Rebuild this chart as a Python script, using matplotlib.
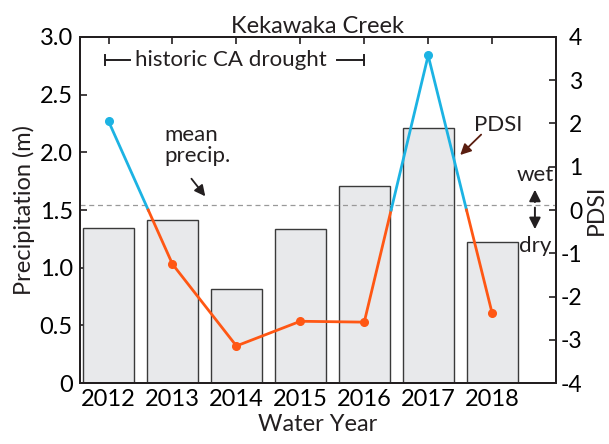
import numpy as np
import matplotlib
matplotlib.use('Agg')
import matplotlib.pyplot as plt

plt.rcParams['font.family'] = ['Lato', 'DejaVu Sans']

years = [2012, 2013, 2014, 2015, 2016, 2017, 2018]
precip = [1.34, 1.41, 0.815, 1.335, 1.71, 2.21, 1.22]
pdsi = [2.05, -1.25, -3.14, -2.57, -2.59, 3.57, -2.38]
mean_precip = 1.545

blue = '#1cb3e3'
orange = '#ff5714'
dark = '#231f20'

fig = plt.figure(figsize=(6.09, 4.44), dpi=100)
ax1 = fig.add_axes([0.131, 0.137, 0.782, 0.780])
ax2 = ax1.twinx()

ax1.bar(years, precip, width=0.8, color='#e8e9eb', edgecolor='#3a3a3a', linewidth=1.0, zorder=2)
ax1.axhline(mean_precip, color='#999999', linestyle=(0, (4, 3)), linewidth=0.9, zorder=3)

# split pdsi line at zero crossings so positive parts are blue and negative orange
x = np.array(years, dtype=float)
y = np.array(pdsi)
for i in range(len(x) - 1):
    x0, x1, y0, y1 = x[i], x[i + 1], y[i], y[i + 1]
    if y0 * y1 < 0:
        xc = x0 + (x1 - x0) * (0 - y0) / (y1 - y0)
        ax2.plot([x0, xc], [y0, 0], color=blue if y0 > 0 else orange, lw=2, zorder=4)
        ax2.plot([xc, x1], [0, y1], color=blue if y1 > 0 else orange, lw=2, zorder=4)
    else:
        ax2.plot([x0, x1], [y0, y1], color=blue if y0 > 0 else orange, lw=2, zorder=4)
for xi, yi in zip(x, y):
    ax2.plot(xi, yi, 'o', color=blue if yi > 0 else orange, ms=5.5, zorder=5)

ax1.set_xlim(2011.55, 2019.0)
ax1.set_ylim(0, 3.0)
ax2.set_ylim(-4, 4)
ax1.set_xticks(years)
ax1.set_yticks(np.arange(0, 3.01, 0.5))
ax1.set_yticklabels(['0', '0.5', '1.0', '1.5', '2.0', '2.5', '3.0'])
ax2.set_yticks(range(-4, 5))
ax2.set_yticklabels(['-4', '-3', '-2', '-1', '0', '1', '2', '3', '4'])

for ax in (ax1, ax2):
    for s in ax.spines.values():
        s.set_color(dark)
        s.set_linewidth(1.4)
ax1.tick_params(axis='x', direction='in', top=True, length=5, width=1.2, color=dark, labelsize=17, pad=4)
ax1.tick_params(axis='y', direction='in', length=5, width=1.2, color=dark, labelsize=17, pad=5)
ax2.tick_params(axis='y', direction='in', length=5, width=1.2, color=dark, labelsize=16.5, pad=19)
for lab in ax2.get_yticklabels():
    lab.set_horizontalalignment('right')

ax1.set_xlabel('Water Year', fontsize=17, color=dark, labelpad=3)
ax1.set_ylabel('Precipitation (m)', fontsize=17, color=dark)
ax1.yaxis.set_label_coords(-0.095, 0.5)
ax2.set_ylabel('PDSI', fontsize=16.5, color=dark)
ax2.yaxis.set_label_coords(1.063, 0.5)
ax1.set_title('Kekawaka Creek', fontsize=17, color=dark, pad=1)

# drought bracket
yb = 2.80
ax1.plot([2011.94, 2012.33], [yb, yb], color=dark, lw=1.4)
ax1.plot([2015.58, 2016.0], [yb, yb], color=dark, lw=1.4)
ax1.plot([2011.94, 2011.94], [yb - 0.04, yb + 0.04], color=dark, lw=1.4)
ax1.plot([2016.0, 2016.0], [yb - 0.04, yb + 0.04], color=dark, lw=1.4)
ax1.text(2012.41, yb, 'historic CA drought', fontsize=16, color=dark, va='center', ha='left')

ax1.text(2012.87, 2.06, 'mean\nprecip.', fontsize=16, color=dark, ha='left', va='center', linespacing=1.05)
ax1.annotate('', xy=(2013.54, 1.60), xytext=(2013.27, 1.79),
             arrowprops=dict(arrowstyle='-|>', color=dark, lw=1.3, mutation_scale=16))

ax1.text(2017.72, 2.24, 'PDSI', fontsize=16, color=dark, ha='left', va='center')
ax1.annotate('', xy=(2017.47, 1.96), xytext=(2017.86, 2.17),
             arrowprops=dict(arrowstyle='-|>', color='#5a1e10', lw=1.3, mutation_scale=16))

ax1.text(2018.67, 1.80, 'wet', fontsize=16, color=dark, ha='center', va='center')
ax1.text(2018.67, 1.19, 'dry', fontsize=16, color=dark, ha='center', va='center')
ax1.annotate('', xy=(2018.67, 1.70), xytext=(2018.67, 1.545),
             arrowprops=dict(arrowstyle='-|>', color=dark, lw=1.4, mutation_scale=17))
ax1.annotate('', xy=(2018.67, 1.31), xytext=(2018.67, 1.545),
             arrowprops=dict(arrowstyle='-|>', color=dark, lw=1.4, mutation_scale=17))

fig.savefig('out.png', dpi=100)
